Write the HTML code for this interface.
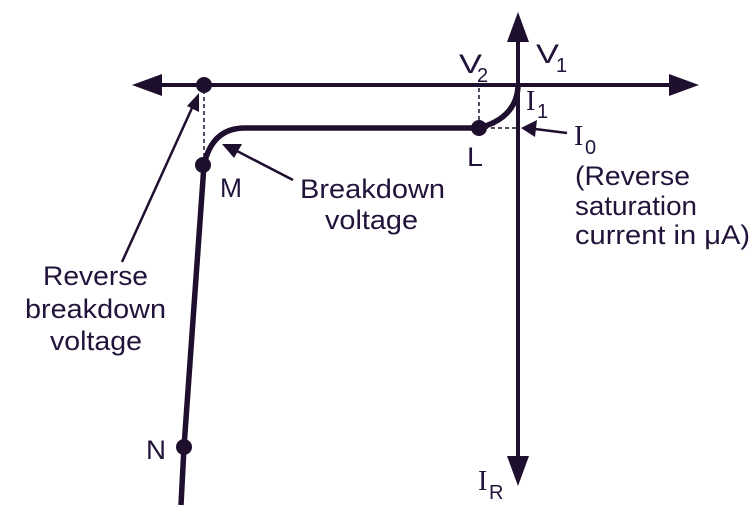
<!DOCTYPE html>
<html><head><style>
html,body{margin:0;padding:0;background:#fff;}
svg text{font-family:"Liberation Sans",Arial,sans-serif;fill:#22133a;}
.s{font-family:"Liberation Serif",serif;}
</style></head><body>
<svg width="755" height="510" viewBox="0 0 755 510" xmlns="http://www.w3.org/2000/svg">
<g stroke="#1f0f2e" fill="none">
<line x1="150" y1="85" x2="680" y2="85" stroke-width="4"/>
<line x1="518" y1="35" x2="518" y2="465" stroke-width="4"/>
<path d="M518,87 Q516,118 479,128 L245,128 Q212,128 204,165 L184,447 L181,505" stroke-width="5.5"/>
<line x1="204" y1="90" x2="204" y2="160" stroke-width="1.5" stroke-dasharray="4,3"/>
<line x1="479" y1="88" x2="479" y2="124" stroke-width="1.5" stroke-dasharray="4,3"/>
<line x1="484" y1="128" x2="516" y2="128" stroke-width="1.5" stroke-dasharray="4,3"/>
<line x1="567" y1="133" x2="535" y2="129" stroke-width="2.5"/>
<line x1="293" y1="180" x2="235" y2="150" stroke-width="2.5"/>
<line x1="122" y1="262" x2="192" y2="108" stroke-width="2.5"/>
</g>
<g fill="#1f0f2e">
<polygon points="132,85 162,74 162,96"/>
<polygon points="699,85 669,74 669,96"/>
<polygon points="518,12 507,42 529,42"/>
<polygon points="518,486 507,456 529,456"/>
<polygon points="521,128 537,120 535,137"/>
<polygon points="222,144 242,144 234,158"/>
<polygon points="199,93 187,106 199,112"/>
<circle cx="204" cy="85" r="8"/>
<circle cx="479" cy="128" r="8"/>
<circle cx="203" cy="165" r="8"/>
<circle cx="184" cy="447" r="8"/>
</g>
<g font-size="27">
<text x="536" y="63" textLength="23" lengthAdjust="spacingAndGlyphs">V</text><text x="556" y="72" font-size="20">1</text>
<text x="459" y="73" textLength="23" lengthAdjust="spacingAndGlyphs">V</text><text x="477" y="82" font-size="20">2</text>
<text x="526" y="110" class="s" font-size="28">I</text><text x="537" y="118" font-size="20">1</text>
<text x="574" y="145" class="s" font-size="28">I</text><text x="585" y="154" font-size="20">0</text>
<text x="575" y="185" textLength="115" lengthAdjust="spacingAndGlyphs">(Reverse</text>
<text x="575" y="215" textLength="122" lengthAdjust="spacingAndGlyphs">saturation</text>
<text x="575" y="244" textLength="175" lengthAdjust="spacingAndGlyphs">current in μA)</text>
<text x="467" y="166" textLength="16" lengthAdjust="spacingAndGlyphs">L</text>
<text x="220" y="197" textLength="22" lengthAdjust="spacingAndGlyphs">M</text>
<text x="300" y="198" textLength="145" lengthAdjust="spacingAndGlyphs">Breakdown</text>
<text x="325" y="229" textLength="93" lengthAdjust="spacingAndGlyphs">voltage</text>
<text x="43" y="285" textLength="105" lengthAdjust="spacingAndGlyphs">Reverse</text>
<text x="25" y="318" textLength="141" lengthAdjust="spacingAndGlyphs">breakdown</text>
<text x="50" y="350" textLength="92" lengthAdjust="spacingAndGlyphs">voltage</text>
<text x="146" y="459" textLength="20" lengthAdjust="spacingAndGlyphs">N</text>
<text x="478" y="490" class="s" font-size="28">I</text><text x="489" y="499" font-size="20">R</text>
</g>
</svg>
</body></html>
